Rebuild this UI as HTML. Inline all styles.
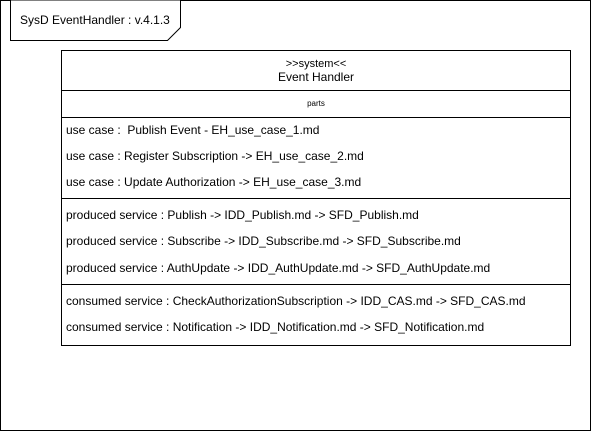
<!DOCTYPE html>
<html><head><meta charset="utf-8"><style>
html,body{margin:0;padding:0;background:#fff;}
svg{display:block;}
text{font-family:"Liberation Sans",Arial,sans-serif;fill:#000;}
</style></head><body>
<svg width="591" height="431" viewBox="0 0 591 431" xmlns="http://www.w3.org/2000/svg">
<rect x="0.5" y="0.5" width="590" height="430" fill="#fff" stroke="#000"/>
<path d="M10.5 0.5 V40.5 H167.5 L180.5 27.5 V0.5" fill="#fff" stroke="#000"/>
<text x="20" y="24" font-size="12">SysD EventHandler : v.4.1.3</text>
<rect x="61.5" y="50.5" width="509" height="295" fill="#fff" stroke="#000"/>
<line x1="61" y1="90.5" x2="571" y2="90.5" stroke="#000"/>
<line x1="61" y1="117.5" x2="571" y2="117.5" stroke="#000"/>
<line x1="61" y1="198.5" x2="571" y2="198.5" stroke="#000"/>
<line x1="61" y1="284.5" x2="571" y2="284.5" stroke="#000"/>
<text x="316" y="67" font-size="11" text-anchor="middle">&gt;&gt;system&lt;&lt;</text>
<text x="316" y="81" font-size="12" text-anchor="middle">Event Handler</text>
<text x="316" y="106" font-size="8" text-anchor="middle">parts</text>
<g font-size="12">
<text x="66" y="134">use case :&#160;&#160;Publish Event - EH_use_case_1.md</text>
<text x="66" y="160">use case : Register Subscription -&gt; EH_use_case_2.md</text>
<text x="66" y="186">use case : Update Authorization -&gt; EH_use_case_3.md</text>
<text x="66" y="219">produced service : Publish -&gt; IDD_Publish.md -&gt; SFD_Publish.md</text>
<text x="66" y="245">produced service : Subscribe -&gt; IDD_Subscribe.md -&gt; SFD_Subscribe.md</text>
<text x="66" y="272">produced service : AuthUpdate -&gt; IDD_AuthUpdate.md -&gt; SFD_AuthUpdate.md</text>
<text x="66" y="305">consumed service : CheckAuthorizationSubscription -&gt; IDD_CAS.md -&gt; SFD_CAS.md</text>
<text x="66" y="331">consumed service : Notification -&gt; IDD_Notification.md -&gt; SFD_Notification.md</text>
</g>
</svg>
</body></html>
